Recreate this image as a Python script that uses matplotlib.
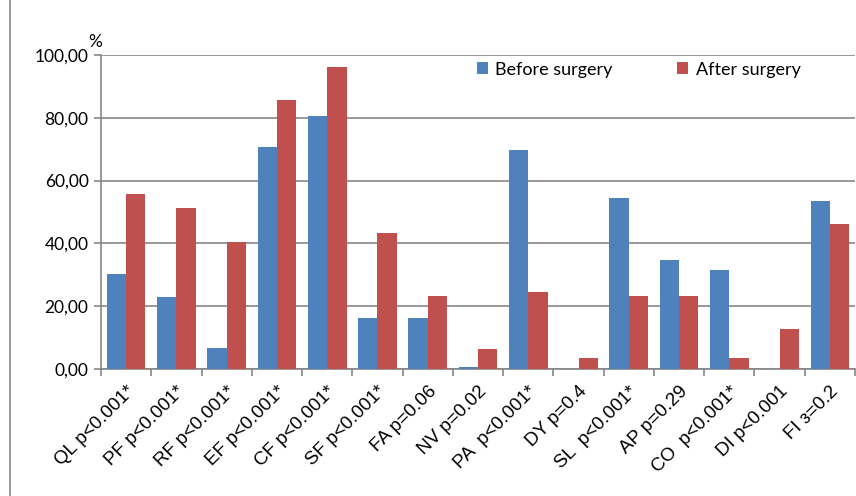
import matplotlib.pyplot as plt
import numpy as np
from matplotlib.lines import Line2D

categories = ["QL p<0.001*", "PF p<0.001*", "RF p<0.001*", "EF p<0.001*",
              "CF p<0.001*", "SF p<0.001*", "FA p=0.06", "NV p=0.02",
              "PA  p<0.001*", "DY p=0.4", "SL  p<0.001*", "AP p=0.29",
              "CO  p<0.001*", "DI p<0.001", "FI з=0.2"]
before = [30.4, 22.8, 6.8, 70.6, 80.5, 16.4, 16.4, 0.7, 69.7, 0.0,
          54.4, 34.6, 31.4, 0.0, 53.4]
after = [55.6, 51.2, 40.6, 85.6, 96.2, 43.2, 23.4, 6.5, 24.4, 3.6,
         23.4, 23.4, 3.6, 12.6, 46.1]
yticks = [0, 20, 40, 60, 80, 100]

BLUE = "#4F81BD"
RED = "#C0504D"
GREY = "#868686"

fig = plt.figure(figsize=(8.56, 4.96), dpi=100)
ax = fig.add_axes([101 / 856, 1 - 369 / 496, 754 / 856, 314 / 496])

x = np.arange(len(categories))
w = 1 / 2.6
ax.bar(x - w / 2, before, width=w, color=BLUE, label="Before surgery", zorder=3)
ax.bar(x + w / 2, after, width=w, color=RED, label="After surgery", zorder=3)

ax.set_xlim(-0.5, len(categories) - 0.5)
ax.set_ylim(0, 100)
ax.set_yticks(yticks)
ax.set_yticklabels([f"{v:.2f}".replace(".", ",") for v in yticks],
                   family="Lato", fontsize=12.5)
ax.yaxis.grid(True, color=GREY, linewidth=1.2, zorder=0)
ax.set_axisbelow(True)

# category boundaries carry the tick marks, labels sit at the centres
ax.set_xticks(np.arange(len(categories) + 1) - 0.5, minor=False)
ax.set_xticklabels([])
ax.set_xticks(x, minor=True)
ax.set_xticklabels(categories, minor=True, rotation=45, ha="right",
                   rotation_mode="anchor", family="Liberation Sans", fontsize=13.5)
ax.tick_params(axis="x", which="minor", length=0, pad=10)
ax.tick_params(axis="x", which="major", length=5, color=GREY, width=1.2)
ax.tick_params(axis="y", length=5, color=GREY, width=1.2, pad=4)

for side in ["top", "right"]:
    ax.spines[side].set_visible(False)
for side in ["left", "bottom"]:
    ax.spines[side].set_color(GREY)
    ax.spines[side].set_linewidth(1.2)

fig.text(95 / 856, 1 - 42 / 496, "%", family="Lato", fontsize=12.5,
         ha="center", va="center")

ax.legend(loc="upper left", bbox_to_anchor=(0.4987, 0.979), ncol=2,
          frameon=False, borderpad=0, borderaxespad=0,
          prop={"family": "Lato", "size": 13}, handlelength=0.6,
          handleheight=0.6, handletextpad=0.4, columnspacing=3.6)

# outer chart border on the left
fig.add_artist(Line2D([10 / 856, 10 / 856], [0, 1], color=GREY, linewidth=1.2))

fig.savefig("out.png", dpi=100)
